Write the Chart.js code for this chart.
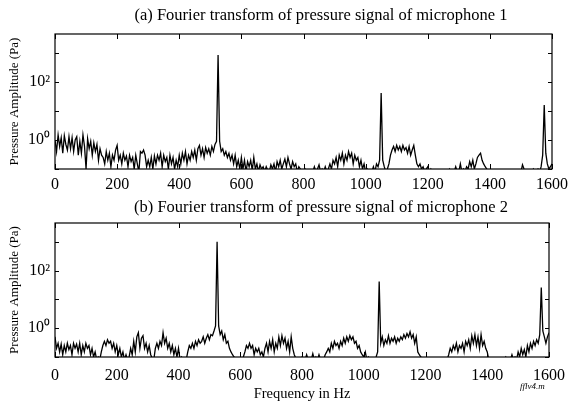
<!DOCTYPE html>
<html>
<head>
<meta charset="utf-8">
<script src="https://cdn.jsdelivr.net/npm/chart.js@4"></script>
<style>
  body { margin: 0; background: #fff; width: 574px; height: 403px; position: relative; overflow: hidden; }
  canvas { position: absolute; left: 0; }
  #c1 { top: 0; }
  #c2 { top: 200px; }
  .ttl { position: absolute; left: 71px; width: 500px; text-align: center; font: 16.5px 'Liberation Serif', serif; color: #000; line-height: 20px; white-space: nowrap; }
  #t1 { top: 5px; }
  #t2 { top: 197px; }
  #tag { position: absolute; left: 520px; top: 381px; font: italic 9px 'Liberation Serif', serif; color: #000; }
</style>
</head>
<body>
<canvas id="c1" width="574" height="200"></canvas>
<canvas id="c2" width="574" height="203"></canvas>
<div class="ttl" id="t1">(a) Fourier transform of pressure signal of microphone 1</div>
<div class="ttl" id="t2">(b) Fourier transform of pressure signal of microphone 2</div>
<div id="tag">fflv4.m</div>
<script>
// frequency (Hz)
const freq = [
  0, 5, 10, 15, 20, 25, 30, 35, 40, 45, 50, 55, 60, 65, 70, 75, 80, 85, 90, 95,
  100, 105, 110, 115, 120, 125, 130, 135, 140, 145, 150, 155, 160, 165, 170, 175, 180, 185, 190, 195,
  200, 205, 210, 215, 220, 225, 230, 235, 240, 245, 250, 255, 260, 265, 270, 275, 280, 285, 290, 295,
  300, 305, 310, 315, 320, 325, 330, 335, 340, 345, 350, 355, 360, 365, 370, 375, 380, 385, 390, 395,
  400, 405, 410, 415, 420, 425, 430, 435, 440, 445, 450, 455, 460, 465, 470, 475, 480, 485, 490, 495,
  500, 505, 510, 515, 520, 525, 530, 535, 540, 545, 550, 555, 560, 565, 570, 575, 580, 585, 590, 595,
  600, 605, 610, 615, 620, 625, 630, 635, 640, 645, 650, 655, 660, 665, 670, 675, 680, 685, 690, 695,
  700, 705, 710, 715, 720, 725, 730, 735, 740, 745, 750, 755, 760, 765, 770, 775, 780, 785, 790, 795,
  800, 805, 810, 815, 820, 825, 830, 835, 840, 845, 850, 855, 860, 865, 870, 875, 880, 885, 890, 895,
  900, 905, 910, 915, 920, 925, 930, 935, 940, 945, 950, 955, 960, 965, 970, 975, 980, 985, 990, 995,
  1000, 1005, 1010, 1015, 1020, 1025, 1030, 1035, 1040, 1045, 1050, 1055, 1060, 1065, 1070, 1075, 1080, 1085, 1090, 1095,
  1100, 1105, 1110, 1115, 1120, 1125, 1130, 1135, 1140, 1145, 1150, 1155, 1160, 1165, 1170, 1175, 1180, 1185, 1190, 1195,
  1200, 1205, 1210, 1215, 1220, 1225, 1230, 1235, 1240, 1245, 1250, 1255, 1260, 1265, 1270, 1275, 1280, 1285, 1290, 1295,
  1300, 1305, 1310, 1315, 1320, 1325, 1330, 1335, 1340, 1345, 1350, 1355, 1360, 1365, 1370, 1375, 1380, 1385, 1390, 1395,
  1400, 1405, 1410, 1415, 1420, 1425, 1430, 1435, 1440, 1445, 1450, 1455, 1460, 1465, 1470, 1475, 1480, 1485, 1490, 1495,
  1500, 1505, 1510, 1515, 1520, 1525, 1530, 1535, 1540, 1545, 1550, 1555, 1560, 1565, 1570, 1575, 1580, 1585, 1590, 1595,
  1600
];

// microphone 1, pressure amplitude (Pa)
const ampMic1 = [
  1.0, 0.4, 1.5, 0.6, 1.2, 0.35, 1.4, 0.7, 0.45, 1.3, 0.5, 1.2, 0.4, 1.0, 1.3, 0.3, 0.9, 0.35, 1.5, 0.6,
  0.1, 1.1, 0.5, 0.9, 0.3, 0.8, 0.4, 0.7, 0.2, 0.5, 0.3, 0.25, 0.15, 0.4, 0.2, 0.35, 0.12, 0.3, 0.2, 0.45,
  0.65, 0.2, 0.3, 0.15, 0.35, 0.2, 0.28, 0.12, 0.3, 0.18, 0.25, 0.1, 0.3, 0.15, 0.08, 0.4, 0.35, 0.45, 0.3, 0.12,
  0.2, 0.12, 0.25, 0.1, 0.28, 0.15, 0.3, 0.2, 0.35, 0.12, 0.3, 0.18, 0.25, 0.1, 0.3, 0.15, 0.25, 0.1, 0.2, 0.12,
  0.3, 0.15, 0.35, 0.2, 0.4, 0.15, 0.3, 0.2, 0.4, 0.25, 0.45, 0.2, 0.5, 0.65, 0.3, 0.5, 0.25, 0.55, 0.35, 0.5,
  0.3, 0.6, 0.4, 0.7, 0.9, 850, 0.9, 0.4, 0.5, 0.3, 0.4, 0.25, 0.35, 0.2, 0.3, 0.15, 0.3, 0.12, 0.2, 0.1,
  0.25, 0.1, 0.2, 0.08, 0.18, 0.12, 0.2, 0.09, 0.25, 0.1, 0.15, 0.08, 0.14, 0.1, 0.12, 0.08, 0.12, 0.09, 0.08, 0.14,
  0.1, 0.15, 0.08, 0.18, 0.12, 0.2, 0.1, 0.15, 0.22, 0.12, 0.25, 0.15, 0.1, 0.18, 0.12, 0.15, 0.08, 0.12, 0.1, 0.08,
  0.08, 0.1, 0.08, 0.08, 0.09, 0.08, 0.08, 0.12, 0.08, 0.1, 0.14, 0.08, 0.1, 0.08, 0.12, 0.08, 0.1, 0.15, 0.1, 0.2,
  0.15, 0.25, 0.12, 0.3, 0.2, 0.35, 0.15, 0.3, 0.2, 0.4, 0.25, 0.35, 0.15, 0.3, 0.2, 0.25, 0.12, 0.2, 0.1, 0.15,
  0.08, 0.1, 0.08, 0.09, 0.08, 0.12, 0.08, 0.15, 0.12, 0.2, 42, 0.2, 0.12, 0.08, 0.1, 0.15, 0.3, 0.45, 0.6, 0.4,
  0.65, 0.45, 0.6, 0.4, 0.65, 0.45, 0.55, 0.35, 0.6, 0.3, 0.45, 0.65, 0.3, 0.15, 0.12, 0.15, 0.1, 0.12, 0.08, 0.1,
  0.12, 0.08, 0.1, 0.08, 0.08, 0.08, 0.08, 0.08, 0.09, 0.08, 0.08, 0.08, 0.08, 0.08, 0.1, 0.08, 0.08, 0.08, 0.12, 0.08,
  0.08, 0.15, 0.08, 0.1, 0.08, 0.12, 0.1, 0.18, 0.12, 0.2, 0.1, 0.15, 0.25, 0.3, 0.35, 0.2, 0.15, 0.12, 0.1, 0.08,
  0.08, 0.08, 0.08, 0.08, 0.08, 0.08, 0.08, 0.08, 0.08, 0.08, 0.08, 0.08, 0.08, 0.08, 0.08, 0.08, 0.08, 0.08, 0.08, 0.08,
  0.08, 0.14, 0.1, 0.08, 0.08, 0.08, 0.09, 0.08, 0.1, 0.08, 0.08, 0.1, 0.08, 0.12, 0.3, 16, 0.35, 0.15, 0.1, 0.12,
  0.15
];

// microphone 2, pressure amplitude (Pa)
const ampMic2 = [
  0.5, 0.2, 0.3, 0.15, 0.28, 0.12, 0.25, 0.15, 0.3, 0.18, 0.25, 0.12, 0.3, 0.2, 0.28, 0.15, 0.3, 0.12, 0.25, 0.15,
  0.3, 0.2, 0.25, 0.12, 0.2, 0.1, 0.15, 0.08, 0.1, 0.08, 0.15, 0.25, 0.35, 0.25, 0.4, 0.3, 0.35, 0.2, 0.3, 0.15,
  0.25, 0.12, 0.2, 0.1, 0.15, 0.08, 0.12, 0.08, 0.1, 0.2, 0.12, 0.35, 0.15, 0.5, 0.7, 0.2, 0.45, 0.55, 0.2, 0.3,
  0.15, 0.25, 0.12, 0.09, 0.08, 0.2, 0.3, 0.2, 0.35, 0.25, 0.7, 0.3, 0.45, 0.2, 0.3, 0.15, 0.25, 0.12, 0.2, 0.1,
  0.2, 0.08, 0.1, 0.08, 0.09, 0.08, 0.15, 0.25, 0.2, 0.3, 0.2, 0.35, 0.25, 0.4, 0.3, 0.35, 0.5, 0.3, 0.45, 0.6,
  0.4, 0.6, 0.55, 0.8, 1.2, 1000, 1.2, 0.6, 0.8, 0.4, 0.6, 0.3, 0.35, 0.2, 0.15, 0.12, 0.1, 0.09, 0.08, 0.08,
  0.08, 0.08, 0.1, 0.15, 0.25, 0.2, 0.3, 0.2, 0.25, 0.12, 0.2, 0.15, 0.2, 0.12, 0.15, 0.1, 0.2, 0.3, 0.15, 0.35,
  0.2, 0.4, 0.15, 0.3, 0.2, 0.5, 0.25, 0.55, 0.3, 0.45, 0.2, 0.35, 0.15, 0.5, 0.2, 0.12, 0.09, 0.08, 0.08, 0.08,
  0.1, 0.08, 0.08, 0.12, 0.08, 0.09, 0.08, 0.13, 0.08, 0.1, 0.08, 0.12, 0.08, 0.09, 0.08, 0.12, 0.15, 0.2, 0.15, 0.3,
  0.2, 0.35, 0.25, 0.3, 0.2, 0.35, 0.25, 0.45, 0.3, 0.5, 0.35, 0.55, 0.4, 0.5, 0.3, 0.35, 0.2, 0.25, 0.15, 0.12,
  0.1, 0.15, 0.08, 0.1, 0.08, 0.08, 0.09, 0.08, 0.1, 0.15, 42, 0.3, 0.5, 0.25, 0.4, 0.3, 0.55, 0.3, 0.45, 0.35,
  0.5, 0.3, 0.45, 0.35, 0.5, 0.4, 0.6, 0.45, 0.65, 0.5, 0.75, 0.45, 0.6, 0.3, 0.5, 0.15, 0.12, 0.1, 0.09, 0.08,
  0.08, 0.08, 0.08, 0.08, 0.08, 0.08, 0.08, 0.08, 0.08, 0.08, 0.08, 0.08, 0.08, 0.08, 0.08, 0.12, 0.2, 0.15, 0.25, 0.18,
  0.3, 0.15, 0.25, 0.2, 0.3, 0.15, 0.35, 0.25, 0.4, 0.2, 0.55, 0.3, 0.6, 0.25, 0.5, 0.2, 0.6, 0.25, 0.35, 0.2,
  0.15, 0.08, 0.08, 0.08, 0.08, 0.08, 0.08, 0.08, 0.08, 0.08, 0.08, 0.08, 0.1, 0.08, 0.08, 0.08, 0.12, 0.08, 0.1, 0.08,
  0.15, 0.1, 0.2, 0.12, 0.18, 0.1, 0.25, 0.15, 0.3, 0.2, 0.35, 0.25, 0.4, 0.3, 0.6, 26, 0.8, 0.5, 0.3, 0.5,
  0.7
];

const decades = [0.1, 1, 10, 100, 1000];
const decadeLabels = { 1: '10\u2070', 100: '10\u00B2' };

Chart.defaults.font.family = "'Liberation Serif', 'Times New Roman', serif";
Chart.defaults.color = '#000';

// closed box with inward ticks on all four sides
const frameTicks = {
  id: 'frameTicks',
  afterDraw(chart) {
    const { ctx, chartArea: a, scales: { x, y } } = chart;
    ctx.save();
    ctx.strokeStyle = '#000';
    ctx.lineWidth = 1.2;
    ctx.strokeRect(a.left, a.top, a.right - a.left, a.bottom - a.top);
    ctx.lineWidth = 1;
    ctx.beginPath();
    x.ticks.forEach(t => {
      const px = Math.round(x.getPixelForValue(t.value)) + 0.5;
      ctx.moveTo(px, a.bottom); ctx.lineTo(px, a.bottom - 5);
      ctx.moveTo(px, a.top); ctx.lineTo(px, a.top + 5);
    });
    y.ticks.forEach(t => {
      const py = Math.round(y.getPixelForValue(t.value)) + 0.5;
      ctx.moveTo(a.left, py); ctx.lineTo(a.left + 4, py);
      ctx.moveTo(a.right, py); ctx.lineTo(a.right - 4, py);
    });
    ctx.stroke();
    ctx.restore();
  }
};

function makeChart(id, amps, opts) {
  const points = freq.map((f, i) => ({ x: f, y: amps[i] }));
  return new Chart(document.getElementById(id), {
    type: 'line',
    data: {
      datasets: [{
        data: points,
        borderColor: '#000',
        borderWidth: 1.3,
        pointRadius: 0,
        tension: 0
      }]
    },
    options: {
      responsive: false,
      animation: false,
      layout: { padding: { left: 0, right: 19, top: opts.top, bottom: 0 } },
      plugins: {
        legend: { display: false },
        tooltip: { enabled: false }
      },
      scales: {
        x: {
          type: 'linear',
          min: 0,
          max: 1600,
          grid: { display: false, drawTicks: false },
          border: { display: false },
          ticks: {
            stepSize: 200, autoSkip: false, maxRotation: 0, padding: opts.tickPad,
            font: { size: 16 },
            callback: v => String(v)
          },
          title: {
            display: opts.xTitle,
            text: 'Frequency in Hz',
            font: { size: 14.5 },
            padding: { top: 0, bottom: 0 }
          },
          afterFit: s => { s.height = opts.xHeight; }
        },
        y: {
          type: 'logarithmic',
          min: 0.1,
          max: 4500,
          grid: { display: false, drawTicks: false },
          border: { display: false },
          afterBuildTicks: s => { s.ticks = decades.map(v => ({ value: v })); },
          ticks: {
            autoSkip: false,
            padding: 5,
            font: { size: 16 },
            callback: v => decadeLabels[v] || ''
          },
          title: {
            display: true,
            text: 'Pressure Amplitude (Pa)',
            font: { size: 13 },
            padding: { top: 7, bottom: 0 }
          },
          afterFit: s => { s.width = 55; }
        }
      }
    },
    plugins: [frameTicks]
  });
}

makeChart('c1', ampMic1, { top: 34, xHeight: 31, xTitle: false, tickPad: 6 });
makeChart('c2', ampMic2, { top: 23, xHeight: 46, xTitle: true, tickPad: 9 });
</script>
</body>
</html>
